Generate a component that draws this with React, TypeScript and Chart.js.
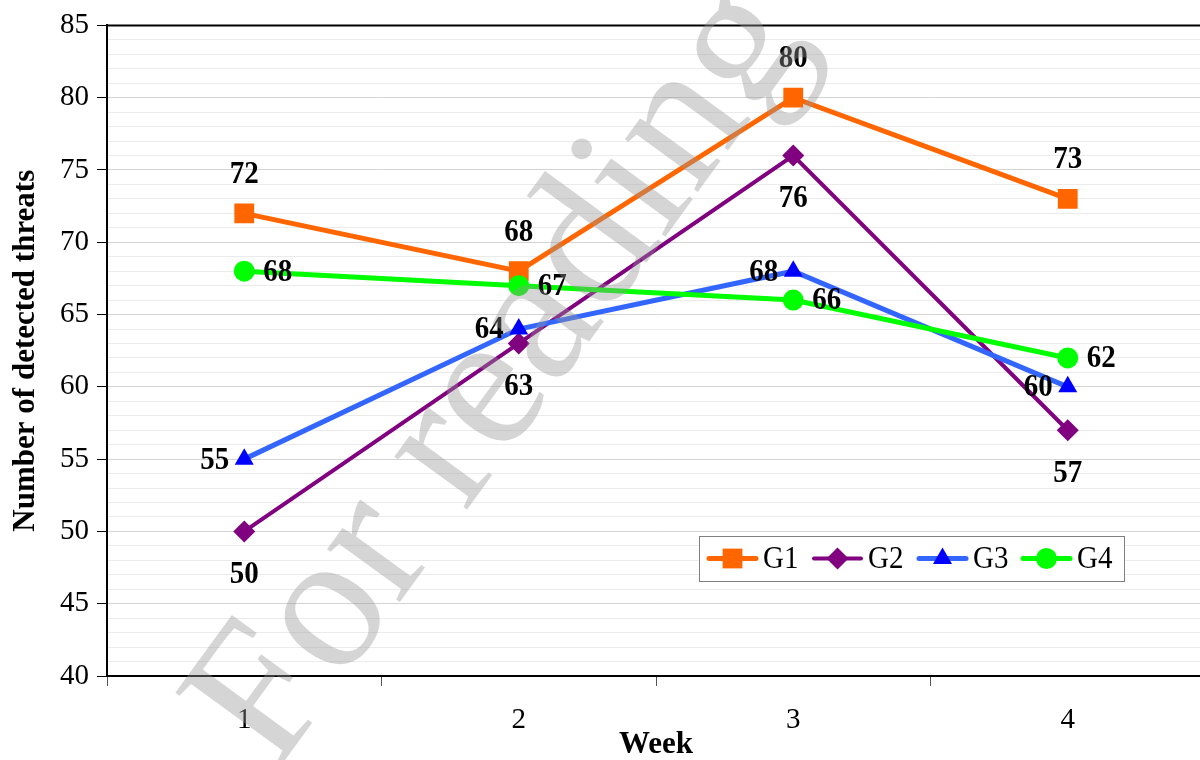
import React, { useEffect, useRef } from "react";
import { Chart, registerables } from "chart.js";

Chart.register(...registerables);

// ---- data ----
const weeks = ["1", "2", "3", "4"];
const seriesNames = ["G1", "G2", "G3", "G4"];
const g1Values = [72, 68, 80, 73];
const g2Values = [50, 63, 76, 57];
const g3Values = [55, 64, 68, 60];
const g4Values = [68, 67, 66, 62];
const yMin = 40;
const yMax = 85;
const yMajorStep = 5;
const xTitle = "Week";
const yTitle = "Number of detected threats";
const watermarkText = "For reading";

// ---- styles ----
const lineColors = ["#FF6600", "#800080", "#3366FF", "#00FF00"];
const markerColors = ["#FF6600", "#800080", "#0000FF", "#00FF00"];
const markerShapes = ["rect", "rectRot", "triangle", "circle"];
const markerRadii = [14, 11, 11, 10.5];
const lineWidths = [5, 4, 5, 5];
const labelPlacements = ["above", "below", "left", "right"];
const SERIF = '"Liberation Serif", "Times New Roman", Times, serif';

function drawMarker(ctx: CanvasRenderingContext2D, shape: string, x: number, y: number, r: number, color: string) {
  ctx.fillStyle = color;
  ctx.beginPath();
  if (shape === "rect") {
    const s = Math.SQRT1_2 * r;
    ctx.rect(x - s, y - s, 2 * s, 2 * s);
  } else if (shape === "rectRot") {
    ctx.moveTo(x - r, y);
    ctx.lineTo(x, y - r);
    ctx.lineTo(x + r, y);
    ctx.lineTo(x, y + r);
    ctx.closePath();
  } else if (shape === "triangle") {
    ctx.moveTo(x, y - r);
    ctx.lineTo(x + r * Math.sin((2 * Math.PI) / 3), y - r * Math.cos((2 * Math.PI) / 3));
    ctx.lineTo(x + r * Math.sin((4 * Math.PI) / 3), y - r * Math.cos((4 * Math.PI) / 3));
    ctx.closePath();
  } else {
    ctx.arc(x, y, r, 0, Math.PI * 2);
  }
  ctx.fill();
}

function tallText(ctx: CanvasRenderingContext2D, text: string, x: number, y: number) {
  ctx.save();
  ctx.translate(x, y);
  ctx.scale(1, 1.12);
  ctx.fillText(text, 0, 0);
  ctx.restore();
}

const frameLinePlugin = {
  id: "frameLine",
  afterDraw(chart: any) {
    const { ctx, chartArea } = chart;
    ctx.save();
    ctx.strokeStyle = "#000";
    ctx.lineWidth = 2;
    ctx.beginPath();
    ctx.moveTo(chartArea.left, chartArea.top);
    ctx.lineTo(chartArea.right, chartArea.top);
    ctx.lineTo(chartArea.right, chartArea.bottom);
    ctx.stroke();
    ctx.restore();
  },
};

const valueLabelPlugin = {
  id: "valueLabels",
  afterDatasetsDraw(chart: any) {
    const ctx = chart.ctx;
    ctx.save();
    ctx.font = `bold 29px ${SERIF}`;
    ctx.fillStyle = "#000";
    chart.data.datasets.forEach((ds: any, i: number) => {
      const meta = chart.getDatasetMeta(i);
      const place = labelPlacements[i];
      meta.data.forEach((pt: any, j: number) => {
        const text = String(ds.data[j]);
        let x = pt.x;
        let y = pt.y;
        ctx.textBaseline = "middle";
        if (place === "above") {
          ctx.textAlign = "center";
          y -= 40;
        } else if (place === "below") {
          ctx.textAlign = "center";
          y += 42;
        } else if (place === "left") {
          ctx.textAlign = "right";
          x -= 15;
        } else {
          ctx.textAlign = "left";
          x += 19;
        }
        tallText(ctx, text, x, y + 1);
      });
    });
    ctx.restore();
  },
};

const legendPlugin = {
  id: "insideLegend",
  afterDraw(chart: any) {
    const ctx = chart.ctx;
    const area = chart.chartArea;
    const boxRight = area.right - 81;
    const boxBottom = area.bottom - 95;
    const boxW = 425;
    const boxH = 45;
    const boxLeft = boxRight - boxW;
    const boxTop = boxBottom - boxH;
    ctx.save();
    ctx.fillStyle = "#fff";
    ctx.fillRect(boxLeft, boxTop, boxW, boxH);
    ctx.strokeStyle = "#808080";
    ctx.lineWidth = 1;
    ctx.strokeRect(boxLeft + 0.5, boxTop + 0.5, boxW, boxH);
    const cy = boxTop + boxH / 2;
    ctx.font = `29px ${SERIF}`;
    ctx.textAlign = "left";
    ctx.textBaseline = "middle";
    const starts = [8, 113, 218, 322];
    chart.data.datasets.forEach((ds: any, i: number) => {
      const x0 = boxLeft + starts[i];
      ctx.strokeStyle = lineColors[i];
      ctx.lineWidth = lineWidths[i];
      ctx.lineCap = "round";
      ctx.beginPath();
      ctx.moveTo(x0 + 2, cy);
      ctx.lineTo(x0 + 49, cy);
      ctx.stroke();
      drawMarker(ctx, markerShapes[i], x0 + 25.5, cy, markerRadii[i], markerColors[i]);
      ctx.fillStyle = "#000";
      tallText(ctx, ds.label, x0 + 56, cy + 1);
    });
    ctx.restore();
  },
};

const watermarkPlugin = {
  id: "watermark",
  afterDraw(chart: any) {
    const ctx = chart.ctx;
    ctx.save();
    ctx.translate(543, 405);
    ctx.rotate((-54 * Math.PI) / 180);
    ctx.font = `196px ${SERIF}`;
    ctx.fillStyle = "rgba(150,150,150,0.4)";
    ctx.textAlign = "center";
    ctx.textBaseline = "alphabetic";
    ctx.fillText(watermarkText, 0, 0);
    ctx.restore();
  },
};

export default function App() {
  const canvasRef = useRef<HTMLCanvasElement | null>(null);

  useEffect(() => {
    document.body.style.margin = "0";
    const canvas = canvasRef.current;
    if (!canvas) return;
    const seriesValues = [g1Values, g2Values, g3Values, g4Values];
    const chart = new Chart(canvas, {
      type: "line",
      data: {
        labels: weeks,
        datasets: seriesValues.map((vals, i) => ({
          label: seriesNames[i],
          data: vals,
          borderColor: lineColors[i],
          backgroundColor: markerColors[i],
          borderWidth: lineWidths[i],
          pointStyle: markerShapes[i] as any,
          pointRadius: markerRadii[i],
          pointHoverRadius: markerRadii[i],
          pointBackgroundColor: markerColors[i],
          pointBorderColor: markerColors[i],
          pointBorderWidth: 0,
          tension: 0,
          fill: false,
          order: 3 - i,
        })),
      },
      options: {
        responsive: false,
        animation: false,
        devicePixelRatio: 1,
        layout: { padding: { left: 0, right: 10, top: 24, bottom: 0 } },
        plugins: {
          legend: { display: false },
          tooltip: { enabled: false },
        },
        scales: {
          x: {
            type: "category",
            offset: true,
            grid: {
              offset: true,
              drawOnChartArea: false,
              drawTicks: true,
              tickLength: 10,
              color: "#555",
              lineWidth: 1,
            },
            border: { display: true, color: "#000", width: 2 },
            ticks: {
              color: "#000",
              font: { family: SERIF, size: 29 },
              padding: 17,
              maxRotation: 0,
            },
            title: {
              display: true,
              text: xTitle,
              color: "#000",
              font: { family: SERIF, size: 31, weight: "bold", lineHeight: 1 },
              padding: { top: 0, bottom: 0 },
            },
            afterFit(scale: any) {
              scale.height = 84;
            },
          },
          y: {
            type: "linear",
            min: yMin,
            max: yMax,
            grid: {
              color: (c: any) => (c.tick && c.tick.value % yMajorStep === 0 ? "#d4d4d4" : "#ebebeb"),
              tickColor: (c: any) => (c.tick && c.tick.value % yMajorStep === 0 ? "#000" : "rgba(0,0,0,0)"),
              lineWidth: 1,
              tickLength: 10,
            },
            border: { display: true, color: "#000", width: 2 },
            ticks: {
              stepSize: 1,
              autoSkip: false,
              color: "#000",
              font: { family: SERIF, size: 29 },
              padding: 8,
              callback: (v: any) => (Number(v) % yMajorStep === 0 ? String(v) : ""),
            },
            title: {
              display: true,
              text: yTitle,
              color: "#000",
              font: { family: SERIF, size: 31, weight: "bold", lineHeight: 1 },
              padding: { top: 10, bottom: 0 },
            },
            afterFit(scale: any) {
              scale.width = 107;
            },
          },
        },
      } as any,
      plugins: [frameLinePlugin, valueLabelPlugin, legendPlugin, watermarkPlugin],
    });
    return () => chart.destroy();
  }, []);

  return (
    <div
      style={{
        position: "fixed",
        left: 0,
        top: 0,
        width: 1200,
        height: 760,
        overflow: "hidden",
        background: "#fff",
      }}
    >
      <canvas ref={canvasRef} width={1219} height={760} style={{ display: "block" }} />
    </div>
  );
}
